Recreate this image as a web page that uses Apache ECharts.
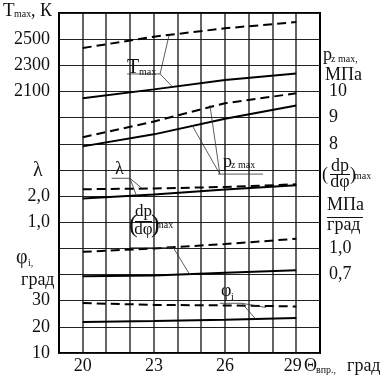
<!DOCTYPE html>
<html><head><meta charset="utf-8">
<script src="https://cdn.jsdelivr.net/npm/echarts@6/dist/echarts.min.js"></script>
<style>html,body{margin:0;padding:0;background:#fff}#c{width:382px;height:381px}</style>
</head><body><div id="c"></div>
<script>
// ---- data ----
const xValues = [20, 23, 26, 29];
const xTickLabels = [20, 23, 26, 29];
const xGridValues = [20, 21, 22, 23, 24, 25, 26, 27, 28, 29];
const tmaxTicks = [2100, 2300, 2500];
const lambdaTicks = [1, 2];
const phiTicks = [10, 20, 30];
const pzTicks = [8, 9, 10];
const dpTicks = [0.7, 1.0];

const tmaxDashed   = [2432, 2519, 2583, 2631];
const tmaxSolid    = [2048, 2116, 2188, 2237];
const pzDashed     = [8.25, 8.85, 9.55, 9.93];
const pzSolid      = [7.90, 8.36, 8.96, 9.46];
const lambdaDashed = [2.26, 2.29, 2.35, 2.45];
const lambdaSolid  = [1.91, 2.06, 2.25, 2.41];
const dpDashed     = [0.96, 1.00, 1.05, 1.11];
const dpSolid      = [0.68, 0.69, 0.72, 0.75];
const phiDashed    = [29.1, 28.4, 28.2, 27.8];
const phiSolid     = [21.9, 22.2, 22.7, 23.4];

// leader lines (data units of their axis)
const leadTmax1 = [[21.87, 2234], [23.26, 2234], [23.64, 2532]];
const leadTmax2 = [[23.26, 2234], [23.76, 2140]];
const leadPz1 = [[27.6, 6.84], [25.70, 6.84]];
const leadPz2 = [[25.78, 6.84], [24.60, 8.72]];
const leadPz3 = [[25.78, 6.84], [25.36, 9.48]];
const leadLam1 = [[21.22, 2.68], [21.99, 2.68], [22.27, 2.00]];
const leadLam2 = [[21.99, 2.68], [22.49, 2.30]];
const leadDp1 = [[21.99, 1.008], [23.82, 1.008], [24.52, 0.695]];
const leadPhi1 = [[25.78, 29.0], [26.71, 29.0], [27.26, 23.3]];
const leadPhi2 = [[26.71, 29.0], [27.72, 27.4]];

// ---- chart ----
const FF = '"Liberation Serif", "DejaVu Serif", serif';
const chart = echarts.init(document.getElementById('c'), null, {renderer: 'canvas'});
const comma = v => Number(v).toFixed(1).replace('.', ',');
const TMAX_MIN = 100, TMAX_MAX = 2700;
const GRID_COLOR = '#222';

function curve(vals, yIdx, dashed) {
  return {type: 'line', yAxisIndex: yIdx, data: xValues.map((x, i) => [x, vals[i]]),
    symbol: 'none', silent: true, z: 3,
    lineStyle: {color: '#000', width: 2, type: dashed ? [9, 5] : 'solid'}};
}
function lead(pts, yIdx) {
  return {type: 'line', yAxisIndex: yIdx, data: pts, symbol: 'none', silent: true, z: 4,
    lineStyle: {color: '#333', width: 0.8}};
}
const vGridSeries = {
  type: 'custom', yAxisIndex: 0, silent: true, z: 1,
  data: xGridValues.map(v => [v]),
  renderItem: function (params, api) {
    const p = api.coord([api.value(0), TMAX_MIN]);
    const q = api.coord([api.value(0), TMAX_MAX]);
    const x = Math.round(p[0]);
    return {type: 'line', shape: {x1: x, y1: p[1], x2: x, y2: q[1]},
      style: {stroke: '#111', lineWidth: 1.3}};
  }
};
const lblBase = {fontFamily: FF, fontSize: 18, color: '#111'};
function yAx(pos, min, max, interval, ticks, fmt, extra) {
  const a = {type: 'value', position: pos, min: min, max: max,
    axisLine: {show: false}, axisTick: {show: false}, splitLine: {show: false},
    axisLabel: Object.assign({}, lblBase, {customValues: ticks, margin: 9,
      formatter: fmt || (v => String(v))})};
  if (interval != null) a.interval = interval;
  return Object.assign(a, extra || {});
}

function T(str, x, base, size, align) {
  return {type: 'text', x: x, y: base - 0.3 * size, silent: true, z: 100,
    style: {text: str, font: size + 'px ' + FF, fill: '#111',
      align: align || 'left', verticalAlign: 'middle'}};
}
function L(x1, y1, x2, y2, w) {
  return {type: 'line', silent: true, z: 100,
    shape: {x1: x1, y1: y1, x2: x2, y2: y2}, style: {stroke: '#111', lineWidth: w || 1}};
}

const graphics = [
  // Tmax axis title
  T('T', 3, 17, 19), T('max', 14, 17, 10), T(', К', 31, 17, 18),
  // lambda left
  T('λ', 33, 177, 20),
  // phi left
  T('φ', 16, 264, 20), T('i,', 28, 266, 10), T('град', 21, 286, 18),
  // right pz
  T('p', 323, 61, 18), T('z max,', 331, 62, 10), T('МПа', 325, 81, 18),
  // right dp/dphi
  T('(', 322, 181, 18), T('dp', 340, 172, 18, 'center'), L(330, 174.5, 350, 174.5, 1),
  T('dφ', 340, 188, 18, 'center'), T(')', 350, 181, 18), T('max', 354, 179, 10),
  T('МПа', 327, 211, 18), L(327, 217.5, 363, 217.5, 1), T('град', 327, 231, 18),
  // x axis name
  T('Θ', 304, 372, 18), T('впр.,', 316, 373, 10), T('град', 347, 372, 18),
  // in-plot labels
  T('T', 127, 74, 20), T('max', 139, 75, 10),
  T('p', 223, 168, 18), T('z max', 231, 168, 10),
  T('λ', 115, 175, 18),
  T('(', 129, 233, 26), T('dp', 143.5, 217, 17, 'center'), L(135, 221.5, 152, 221.5, 1),
  T('dφ', 143.5, 235, 17, 'center'), T(')', 151, 233, 26), T('max', 156, 228, 10),
  T('φ', 221, 297, 18), T('i', 231, 300, 10)
];

chart.setOption({
  animation: false,
  backgroundColor: '#fff',
  grid: {left: 59, right: 62, top: 13, bottom: 28, show: true, borderColor: '#000',
    borderWidth: 2, backgroundColor: 'transparent', containLabel: false, outerBoundsMode: 'none'},
  xAxis: {type: 'value', min: 19, max: 30, interval: 1,
    axisLine: {show: false}, axisTick: {show: false},
    splitLine: {show: false},
    axisLabel: Object.assign({}, lblBase, {margin: 4,
      formatter: v => (v === 29 ? '{s|29}' : (xTickLabels.indexOf(v) >= 0 ? String(v) : '')),
      rich: {s: {fontFamily: FF, fontSize: 18, color: '#111', padding: [0, 7, 0, 0]}}})},
  yAxis: [
    yAx('left', TMAX_MIN, TMAX_MAX, 200, tmaxTicks, null,
      {splitLine: {show: true, lineStyle: {color: GRID_COLOR, width: 1}}}),
    yAx('left', -4, 9, 1, lambdaTicks, comma),
    yAx('left', 10, 140, 10, phiTicks, null),
    yAx('right', 0, 13, 1, pzTicks, null),
    yAx('right', -0.2, 3.7, null, dpTicks, comma)
  ],
  series: [
    vGridSeries,
    curve(tmaxDashed, 0, true), curve(tmaxSolid, 0, false),
    curve(pzDashed, 3, true), curve(pzSolid, 3, false),
    curve(lambdaDashed, 1, true), curve(lambdaSolid, 1, false),
    curve(dpDashed, 4, true), curve(dpSolid, 4, false),
    curve(phiDashed, 2, true), curve(phiSolid, 2, false),
    lead(leadTmax1, 0), lead(leadTmax2, 0),
    lead(leadPz1, 3), lead(leadPz2, 3), lead(leadPz3, 3),
    lead(leadLam1, 1), lead(leadLam2, 1),
    lead(leadDp1, 4),
    lead(leadPhi1, 2), lead(leadPhi2, 2)
  ],
  graphic: graphics
});
</script></body></html>
